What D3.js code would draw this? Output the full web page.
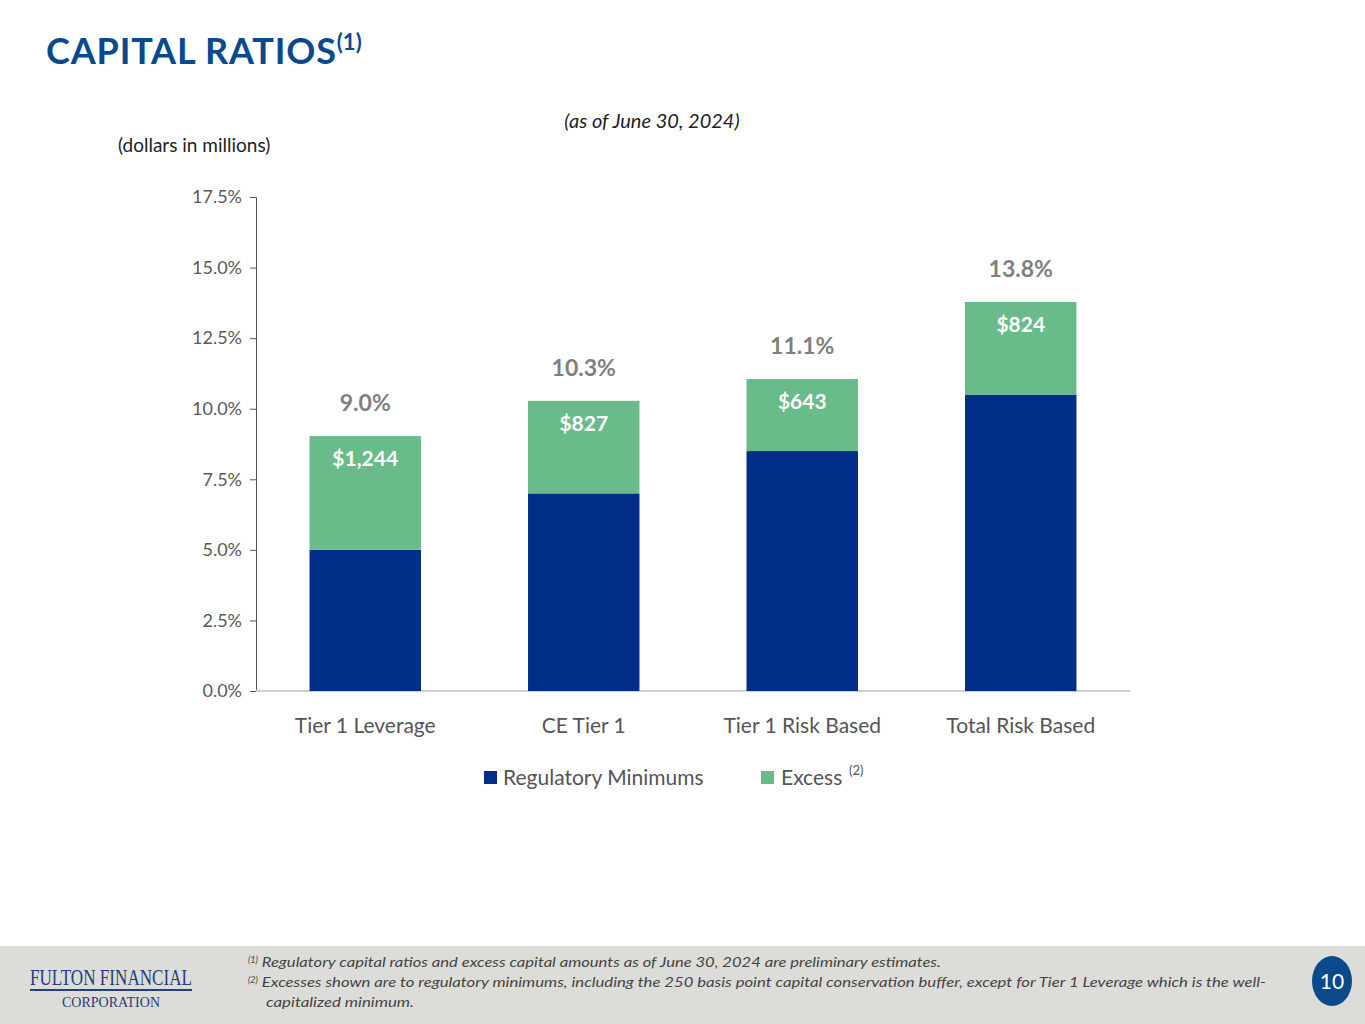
<!DOCTYPE html>
<html>
<head>
<meta charset="utf-8">
<script src="https://cdn.jsdelivr.net/npm/d3@7"></script>
<style>
  body { margin: 0; background: #fff; }
  svg { display: block; font-family: Lato, "Open Sans", sans-serif; }
</style>
</head>
<body>
<svg id="chart" width="1365" height="1024"></svg>
<script>
// Données du graphique
const categories = ['Tier 1 Leverage', 'CE Tier 1', 'Tier 1 Risk Based', 'Total Risk Based'];
const regulatoryMin = [5.0, 7.0, 8.5, 10.5];
const totalRatio = [9.03, 10.28, 11.05, 13.78];
const totalLabels = ['9.0%', '10.3%', '11.1%', '13.8%'];
const excessLabels = ['$1,244', '$827', '$643', '$824'];
const yTicks = [0, 2.5, 5, 7.5, 10, 12.5, 15, 17.5];

const svg = d3.select('#chart');
const blue = '#002d87', green = '#6abb8a';

// Titre
const title = svg.append('text').attr('x', 46).attr('y', 64)
  .style('font-size', '36px').style('font-weight', 'bold').style('fill', '#0a4a8c');
title.append('tspan').text('CAPITAL RATIOS').attr('textLength', 290);
title.append('tspan').attr('dy', -14).style('font-size', '22px').text('(1)');

svg.append('text').attr('x', 652).attr('y', 128).attr('text-anchor', 'middle')
  .style('font-size', '20px').style('font-style', 'italic').style('fill', '#222')
  .text('(as of June 30, 2024)');
svg.append('text').attr('x', 118).attr('y', 152)
  .style('font-size', '19px').style('fill', '#222').text('(dollars in millions)');

// Échelles
const x = d3.scaleBand().domain(categories).range([256, 1130]).paddingInner(0.49).paddingOuter(0.245);
const y = d3.scaleLinear().domain([0, 17.5]).range([691, 197]);

// Axes
svg.append('g').attr('transform', 'translate(256,0)')
  .call(d3.axisLeft(y).tickValues(yTicks).tickFormat(d => d.toFixed(1) + '%').tickSize(6).tickPadding(8))
  .call(g => g.selectAll('text').style('font-size', '18px').style('fill', '#595959').style('font-family', 'Lato, sans-serif'))
  .call(g => g.selectAll('line,path').attr('stroke', '#555'));

svg.append('line').attr('x1', 256).attr('x2', 1130).attr('y1', 691).attr('y2', 691)
  .attr('stroke', '#d0d0d0').attr('stroke-width', 2);

categories.forEach((c, i) => {
  const bx = x(c), bw = x.bandwidth();
  svg.append('rect').attr('x', bx).attr('width', bw)
    .attr('y', y(regulatoryMin[i])).attr('height', y(0) - y(regulatoryMin[i])).attr('fill', blue);
  svg.append('rect').attr('x', bx).attr('width', bw)
    .attr('y', y(totalRatio[i])).attr('height', y(regulatoryMin[i]) - y(totalRatio[i])).attr('fill', green);
  svg.append('text').attr('x', bx + bw / 2).attr('y', y(totalRatio[i]) + 30).attr('text-anchor', 'middle')
    .style('font-size', '21px').style('font-weight', 'bold').style('fill', '#fff').text(excessLabels[i]);
  svg.append('text').attr('x', bx + bw / 2).attr('y', y(totalRatio[i]) - 25).attr('text-anchor', 'middle')
    .style('font-size', '23px').style('font-weight', 'bold').style('fill', '#7f7f7f').text(totalLabels[i]);
  svg.append('text').attr('x', bx + bw / 2).attr('y', 733).attr('text-anchor', 'middle')
    .style('font-size', '21px').style('fill', '#555').text(c);
});

// Légende
svg.append('rect').attr('x', 484).attr('y', 771).attr('width', 13).attr('height', 13).attr('fill', blue);
svg.append('text').attr('x', 503).attr('y', 785).style('font-size', '21px').style('fill', '#555').text('Regulatory Minimums');
svg.append('rect').attr('x', 761).attr('y', 771).attr('width', 13).attr('height', 13).attr('fill', green);
svg.append('text').attr('x', 781).attr('y', 785).style('font-size', '21px').style('fill', '#555').text('Excess');
svg.append('text').attr('x', 849).attr('y', 775).style('font-size', '13px').style('fill', '#555').text('(2)');

// Pied de page
svg.append('rect').attr('x', 0).attr('y', 946).attr('width', 1365).attr('height', 78).attr('fill', '#dcdcd8');
svg.append('text').attr('x', 30).attr('y', 985)
  .style('font-family', '"Liberation Serif", serif').style('font-size', '24px').style('fill', '#2a3d7a')
  .attr('textLength', 162).attr('lengthAdjust', 'spacingAndGlyphs').text('FULTON FINANCIAL');
svg.append('line').attr('x1', 30).attr('x2', 192).attr('y1', 990).attr('y2', 990).attr('stroke', '#2a3d7a').attr('stroke-width', 2);
svg.append('text').attr('x', 62).attr('y', 1007)
  .style('font-family', '"Liberation Serif", serif').style('font-size', '15px').style('fill', '#2a3d7a')
  .attr('textLength', 98).attr('lengthAdjust', 'spacingAndGlyphs').text('CORPORATION');

const notes = [
  [248, 967, '(1)', ' Regulatory capital ratios and excess capital amounts as of June 30, 2024 are preliminary estimates.', 683],
  [248, 987, '(2)', ' Excesses shown are to regulatory minimums, including the 250 basis point capital conservation buffer, except for Tier 1 Leverage which is the well-', 1008],
  [266, 1007, '', 'capitalized minimum.', 148]
];
notes.forEach(n => {
  const t = svg.append('text').attr('x', n[0]).attr('y', n[1])
    .style('font-size', '14px').style('font-style', 'italic').style('fill', '#444');
  if (n[2]) t.append('tspan').attr('dy', -4).style('font-size', '9px').text(n[2]);
  t.append('tspan').attr('dy', n[2] ? 4 : 0).attr('textLength', n[4])
    .attr('lengthAdjust', 'spacingAndGlyphs').text(n[3]);
});

svg.append('ellipse').attr('cx', 1332).attr('cy', 981).attr('rx', 20).attr('ry', 25).attr('fill', '#0a4a8c');
svg.append('text').attr('x', 1332).attr('y', 989).attr('text-anchor', 'middle')
  .style('font-size', '21px').style('fill', '#fff').text('10');
</script>
</body>
</html>
